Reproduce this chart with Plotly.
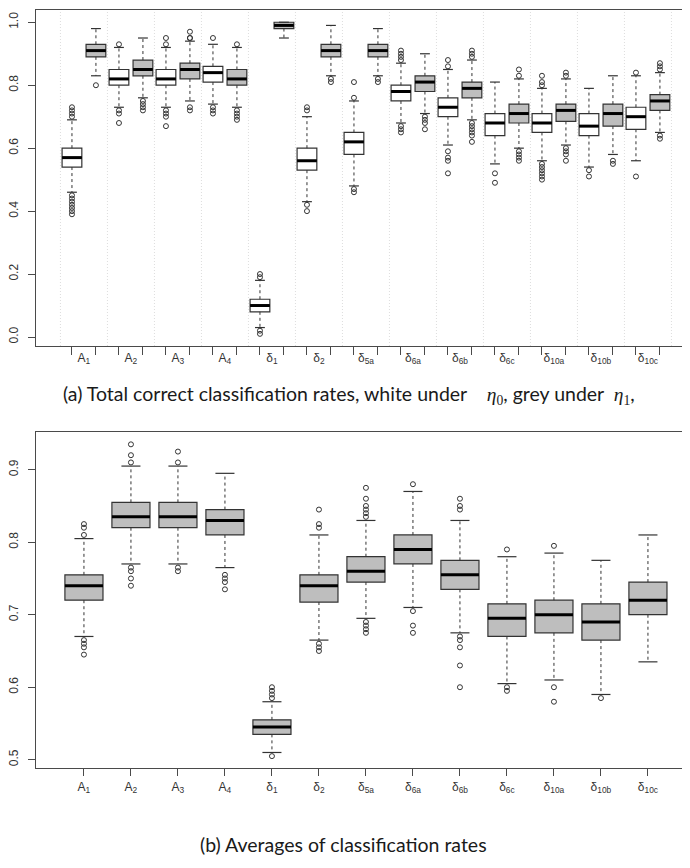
import plotly.graph_objects as go

W, H = 690, 868

labels = ["A<sub>1</sub>", "A<sub>2</sub>", "A<sub>3</sub>", "A<sub>4</sub>",
          "δ<sub>1</sub>", "δ<sub>2</sub>", "δ<sub>5a</sub>", "δ<sub>6a</sub>",
          "δ<sub>6b</sub>", "δ<sub>6c</sub>", "δ<sub>10a</sub>", "δ<sub>10b</sub>",
          "δ<sub>10c</sub>"]

# ---- Panel (a): white boxes (eta0) ----
w_lo = [0.46, 0.73, 0.73, 0.74, 0.03, 0.43, 0.48, 0.68, 0.61, 0.55, 0.56, 0.54, 0.56]
w_q1 = [0.54, 0.80, 0.80, 0.81, 0.08, 0.53, 0.58, 0.75, 0.70, 0.64, 0.65, 0.64, 0.66]
w_med = [0.57, 0.82, 0.82, 0.84, 0.10, 0.56, 0.62, 0.78, 0.73, 0.68, 0.68, 0.67, 0.70]
w_q3 = [0.60, 0.85, 0.85, 0.86, 0.12, 0.60, 0.65, 0.80, 0.76, 0.71, 0.71, 0.71, 0.73]
w_hi = [0.69, 0.92, 0.92, 0.93, 0.18, 0.70, 0.75, 0.87, 0.85, 0.81, 0.79, 0.79, 0.83]
w_out = [
    [0.73, 0.72, 0.71, 0.70, 0.45, 0.44, 0.43, 0.42, 0.41, 0.40, 0.39],
    [0.93, 0.72, 0.71, 0.68],
    [0.95, 0.93, 0.72, 0.71, 0.70, 0.67],
    [0.95, 0.73, 0.72, 0.71],
    [0.20, 0.19, 0.02, 0.01],
    [0.73, 0.72, 0.42, 0.40],
    [0.81, 0.76, 0.47, 0.46],
    [0.91, 0.90, 0.89, 0.88, 0.67, 0.66, 0.65],
    [0.88, 0.86, 0.59, 0.57, 0.56, 0.52],
    [0.52, 0.49],
    [0.83, 0.81, 0.80, 0.55, 0.54, 0.53, 0.52, 0.51, 0.50],
    [0.53, 0.51],
    [0.84, 0.51],
]

# ---- Panel (a): grey boxes (eta1) ----
g_lo = [0.83, 0.76, 0.75, 0.73, 0.95, 0.83, 0.83, 0.71, 0.69, 0.60, 0.61, 0.58, 0.65]
g_q1 = [0.89, 0.83, 0.82, 0.80, 0.98, 0.89, 0.89, 0.78, 0.76, 0.68, 0.685, 0.67, 0.72]
g_med = [0.91, 0.85, 0.85, 0.82, 0.99, 0.91, 0.91, 0.81, 0.79, 0.71, 0.72, 0.71, 0.75]
g_q3 = [0.93, 0.88, 0.87, 0.85, 1.00, 0.93, 0.93, 0.83, 0.81, 0.74, 0.74, 0.74, 0.77]
g_hi = [0.98, 0.95, 0.94, 0.92, 1.00, 0.99, 0.98, 0.90, 0.88, 0.82, 0.82, 0.83, 0.84]
g_out = [
    [0.80],
    [0.75, 0.74, 0.73, 0.72],
    [0.97, 0.95, 0.95, 0.73, 0.72],
    [0.93, 0.72, 0.71, 0.70, 0.69],
    [],
    [0.82, 0.81],
    [0.82, 0.81],
    [0.70, 0.69, 0.68, 0.66],
    [0.91, 0.90, 0.89, 0.68, 0.67, 0.66, 0.65, 0.64, 0.62],
    [0.85, 0.83, 0.59, 0.58, 0.57, 0.56],
    [0.84, 0.83, 0.60, 0.59, 0.58, 0.56],
    [0.56, 0.55],
    [0.87, 0.86, 0.85, 0.64, 0.63],
]

# ---- Panel (b): averages ----
b_lo = [0.670, 0.770, 0.770, 0.765, 0.510, 0.665, 0.695, 0.710, 0.675, 0.605, 0.610, 0.590, 0.635]
b_q1 = [0.720, 0.820, 0.820, 0.810, 0.535, 0.7175, 0.745, 0.770, 0.735, 0.670, 0.675, 0.665, 0.700]
b_med = [0.740, 0.835, 0.835, 0.830, 0.545, 0.740, 0.760, 0.790, 0.755, 0.695, 0.700, 0.690, 0.720]
b_q3 = [0.755, 0.855, 0.855, 0.845, 0.555, 0.755, 0.780, 0.810, 0.775, 0.715, 0.720, 0.715, 0.745]
b_hi = [0.805, 0.905, 0.905, 0.895, 0.580, 0.810, 0.830, 0.870, 0.830, 0.780, 0.785, 0.775, 0.810]
b_out = [
    [0.825, 0.820, 0.810, 0.665, 0.660, 0.655, 0.645],
    [0.935, 0.920, 0.910, 0.765, 0.760, 0.750, 0.740],
    [0.925, 0.910, 0.765, 0.760],
    [0.755, 0.750, 0.745, 0.735],
    [0.600, 0.595, 0.590, 0.585, 0.505],
    [0.845, 0.825, 0.820, 0.660, 0.655, 0.650],
    [0.875, 0.860, 0.850, 0.845, 0.840, 0.835, 0.690, 0.685, 0.680, 0.675],
    [0.880, 0.705, 0.685, 0.675],
    [0.860, 0.850, 0.845, 0.670, 0.665, 0.655, 0.630, 0.600],
    [0.790, 0.600, 0.595],
    [0.795, 0.600, 0.580],
    [0.585],
    [],
]

top_yticks = [0.0, 0.2, 0.4, 0.6, 0.8, 1.0]
bot_yticks = [0.5, 0.6, 0.7, 0.8, 0.9]

caption_a = ("(a) Total correct classification rates, white under \u00a0\u00a0\u00a0"
             "<span style=\"font-family:'Liberation Serif'\"><i>η</i><sub>0</sub></span>"
             ", grey under \u00a0<span style=\"font-family:'Liberation Serif'\"><i>η</i><sub>1</sub></span>,")
caption_b = "(b) Averages of classification rates"

# ---------------- styling ----------------
FRAME = "#4a4a4a"
BORDER = "#333333"
GREY = "#bebebe"
TICKFONT = dict(family="Liberation Sans, Arial, sans-serif", size=12, color="#333333")
CAPFONT = dict(family="Lato, 'Open Sans', sans-serif", size=19.5, color="#1a1a1a")

pos = list(range(1, len(labels) + 1))
OFF = 0.255
w_pos = [p - OFF for p in pos]
g_pos = [p + OFF for p in pos]

X_DOM = [28 / W, 1.0]
TOP_DOM = [1 - 338 / H, 1 - 2 / H]
BOT_DOM = [1 - 760 / H, 1 - 424 / H]
XR = [-0.02, 14.065]

fig = go.Figure()


def add_boxes(xa, ya, xs, lo, q1, med, q3, hi, outs, fill, width):
    # whiskers (dashed)
    wx, wy = [], []
    for x, l, a, b, h in zip(xs, lo, q1, q3, hi):
        wx += [x, x, None, x, x, None]
        wy += [b, h, None, a, l, None]
    fig.add_trace(go.Scatter(x=wx, y=wy, mode="lines", xaxis=xa, yaxis=ya,
                             line=dict(color=BORDER, width=1, dash="3px,3px"),
                             hoverinfo="skip", showlegend=False))
    # boxes
    fig.add_trace(go.Box(x=xs, q1=q1, median=med, q3=q3, lowerfence=q1, upperfence=q3,
                         width=width, fillcolor=fill, line=dict(color=BORDER, width=1.2),
                         whiskerwidth=0, boxpoints=False, xaxis=xa, yaxis=ya,
                         hoverinfo="skip", showlegend=False))
    # medians (thick)
    mx, my = [], []
    for x, m in zip(xs, med):
        mx += [x - width / 2, x + width / 2, None]
        my += [m, m, None]
    fig.add_trace(go.Scatter(x=mx, y=my, mode="lines", xaxis=xa, yaxis=ya,
                             line=dict(color="#000000", width=3),
                             hoverinfo="skip", showlegend=False))
    # whisker caps
    cx, cy = [], []
    for x, l, h in zip(xs, lo, hi):
        cx += [x - width / 4, x + width / 4, None, x - width / 4, x + width / 4, None]
        cy += [h, h, None, l, l, None]
    fig.add_trace(go.Scatter(x=cx, y=cy, mode="lines", xaxis=xa, yaxis=ya,
                             line=dict(color=BORDER, width=1.2),
                             hoverinfo="skip", showlegend=False))
    # outliers
    ox, oy = [], []
    for x, o in zip(xs, outs):
        ox += [x] * len(o)
        oy += o
    fig.add_trace(go.Scatter(x=ox, y=oy, mode="markers", xaxis=xa, yaxis=ya,
                             marker=dict(symbol="circle-open", size=5, color=BORDER,
                                         line=dict(width=1, color=BORDER)),
                             hoverinfo="skip", showlegend=False))


add_boxes("x", "y", w_pos, w_lo, w_q1, w_med, w_q3, w_hi, w_out, "#ffffff", 0.42)
add_boxes("x", "y", g_pos, g_lo, g_q1, g_med, g_q3, g_hi, g_out, GREY, 0.42)
add_boxes("x2", "y2", pos, b_lo, b_q1, b_med, b_q3, b_hi, b_out, GREY, 0.81)

# dotted separators between groups in panel (a)
for k in range(len(labels) + 1):
    fig.add_shape(type="line", xref="x", yref="y domain", x0=k + 0.5, x1=k + 0.5,
                  y0=0, y1=1, line=dict(color="#dedede", width=1, dash="1px,2px"), layer="below")

axis_common = dict(showgrid=False, zeroline=False, showline=True, linecolor=FRAME,
                   linewidth=1.3, tickfont=TICKFONT, tickcolor=FRAME, automargin=False)

fig.update_layout(
    width=W, height=H, margin=dict(l=0, r=0, t=0, b=0),
    paper_bgcolor="white", plot_bgcolor="white", showlegend=False,
    xaxis=dict(domain=X_DOM, range=XR, anchor="y", tickmode="array", tickvals=pos,
               ticktext=labels, ticks="", mirror=True, ticklabelstandoff=0,
               minor=dict(tickmode="array", tickvals=w_pos + g_pos, ticks="outside",
                          ticklen=8, tickcolor=FRAME, tickwidth=1, showgrid=False),
               **axis_common),
    yaxis=dict(domain=TOP_DOM, range=[-0.0286, 1.039], anchor="x", tickmode="array",
               tickvals=top_yticks, tickformat=".1f", ticks="outside", ticklen=7,
               tickangle=-90, ticklabelstandoff=5, **axis_common),
    xaxis2=dict(domain=X_DOM, range=XR, anchor="y2", tickmode="array", tickvals=pos,
                ticktext=labels, ticks="outside", ticklen=7, mirror=True, **axis_common),
    yaxis2=dict(domain=BOT_DOM, range=[0.4886, 0.952], anchor="x2", tickmode="array",
                tickvals=bot_yticks, tickformat=".1f", ticks="outside", ticklen=7,
                tickangle=-90, ticklabelstandoff=5, **axis_common),
    annotations=[
        dict(text=caption_a, x=341 / W, y=1 - 387 / H, xref="paper", yref="paper",
             xanchor="center", yanchor="middle", showarrow=False, font=CAPFONT),
        dict(text=caption_b, x=335 / W, y=1 - 836 / H, xref="paper", yref="paper",
             xanchor="center", yanchor="middle", showarrow=False, font=CAPFONT),
    ],
)

fig.write_html("out.html")
